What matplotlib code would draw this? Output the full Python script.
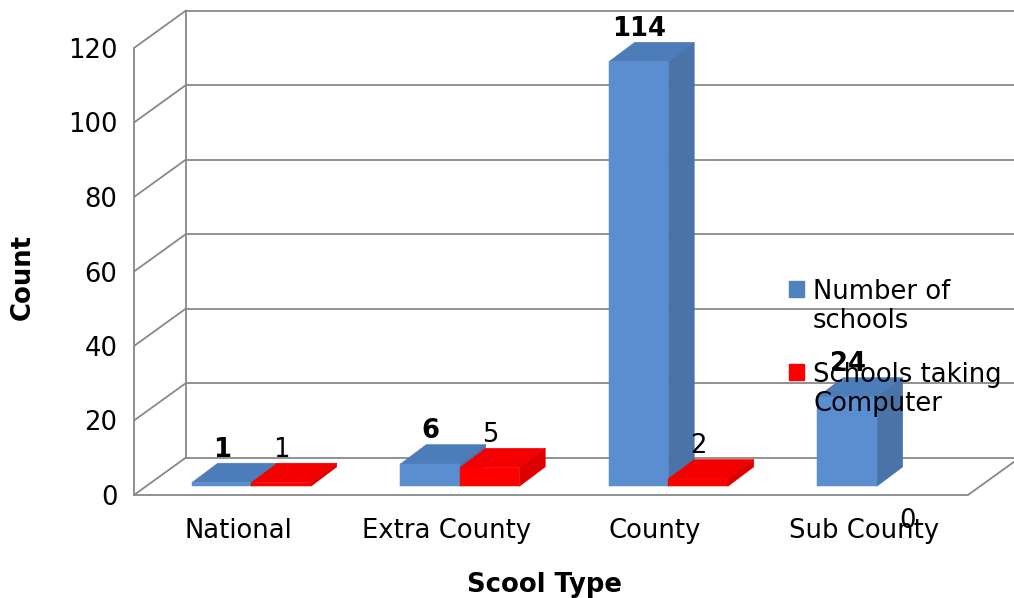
import matplotlib
matplotlib.use("Agg")
import matplotlib.pyplot as plt
from matplotlib.legend_handler import HandlerPatch
from matplotlib.patches import Patch, Polygon, Rectangle

# Data
categories = ["National", "Extra County", "County", "Sub County"]
number_of_schools = [1, 6, 114, 24]
schools_taking_computer = [1, 5, 2, 0]
value_ticks = [0, 20, 40, 60, 80, 100, 120]

W, H = 1014, 598
FONT = 18.6
plt.rcParams["font.family"] = ["DejaVu Sans"]

fig = plt.figure(figsize=(W / 100, H / 100), dpi=100, facecolor="white")
# The axes rectangle is the front plane of the box.
ax = fig.add_axes([134 / W, 1 - 495 / H, (968 - 134) / W, (495 - 48) / H])
ax.set_xlim(-0.5, 3.5)
ax.set_ylim(0, 120)
ax.patch.set_visible(False)
for spine in ax.spines.values():
    spine.set_visible(False)

# Pixel scale of each data axis, used for the oblique depth of the box and bars.
PX_X = (968 - 134) / 4
PX_Y = (495 - 48) / 120
WALL_DX, WALL_DY = 52 / PX_X, 37.5 / PX_Y
BAR_DX, BAR_DY = 26 / PX_X, 19.5 / PX_Y
BAR_W = 59.5 / PX_X
BAR_SHIFT = 13 / PX_X
BAR_BASE = 8.6 / PX_Y

GRID = "#888888"
wall = dict(color=GRID, lw=1.3, clip_on=False, zorder=1, solid_capstyle="round")
for v in value_ticks:
    ax.plot([-0.5, -0.5 + WALL_DX], [v, v + WALL_DY], **wall)
    ax.plot([-0.5 + WALL_DX, 3.5 + WALL_DX], [v + WALL_DY, v + WALL_DY], **wall)
ax.plot([-0.5, -0.5], [0, 120], **wall)
ax.plot([-0.5 + WALL_DX] * 2, [WALL_DY, 120 + WALL_DY], **wall)
ax.plot([-0.5, 3.5, 3.5 + WALL_DX], [0, 0, WALL_DY], **wall)

BLUE = ("#5b8ed0", "#4d7db8", "#4a74a8")
RED = ("#ff0000", "#f50000", "#dc0000")
SEAM = 0.35


def draw_bars(values, left, colors, z):
    for i, v in enumerate(values):
        if v <= 0:
            continue
        x0 = i + left
        x1 = x0 + BAR_W
        y0, y1 = BAR_BASE, BAR_BASE + v
        ax.add_patch(Polygon([(x0, y1), (x1, y1), (x1 + BAR_DX, y1 + BAR_DY),
                              (x0 + BAR_DX, y1 + BAR_DY)], closed=True,
                             fc=colors[1], ec=colors[1], lw=SEAM, clip_on=False, zorder=z))
        ax.add_patch(Polygon([(x1, y0), (x1 + BAR_DX, y0 + BAR_DY),
                              (x1 + BAR_DX, y1 + BAR_DY), (x1, y1)], closed=True,
                             fc=colors[2], ec=colors[2], lw=SEAM, clip_on=False, zorder=z))
        ax.bar(x0, v, BAR_W, bottom=y0, align="edge", color=colors[0],
               edgecolor=colors[0], linewidth=SEAM, clip_on=False, zorder=z)


draw_bars(number_of_schools, BAR_SHIFT - BAR_W, BLUE, 3)
draw_bars(schools_taking_computer, BAR_SHIFT, RED, 4)


def draw_labels(values, left, weight):
    for i, v in enumerate(values):
        # A zero bar has its label dropped below the floor.
        dy = -38.8 if v == 0 else 9.4
        ax.annotate(str(v), (i + left + BAR_W / 2, BAR_BASE + v + BAR_DY),
                    xytext=(0.5, dy), textcoords="offset points", ha="center",
                    va="center", fontsize=FONT, fontweight=weight, color="black",
                    annotation_clip=False, zorder=6)


draw_labels(number_of_schools, BAR_SHIFT - BAR_W, "bold")
draw_labels(schools_taking_computer, BAR_SHIFT, "normal")

# Axis ticks and titles
ax.set_xticks(range(len(categories)), categories, fontsize=FONT)
ax.set_yticks(value_ticks, [str(v) for v in value_ticks], fontsize=FONT)
ax.tick_params(axis="both", length=0, colors="black")
ax.tick_params(axis="x", pad=16.3)
ax.tick_params(axis="y", pad=12)
ax.set_xlabel("Scool Type", fontsize=FONT, fontweight="bold")
ax.xaxis.set_label_coords(544.5 / W, 1 - 585 / H, transform=fig.transFigure)
ax.xaxis.label.set_va("center")
ax.set_ylabel("Count", fontsize=FONT, fontweight="bold")
ax.yaxis.set_label_coords(23 / W, 1 - 277 / H, transform=fig.transFigure)
ax.yaxis.label.set_va("center")


# Legend keys sit beside the first line of each wrapped label.
def first_line_key(legend, orig_handle, xdescent, ydescent, width, height, fontsize):
    return Rectangle((0, 14.0), 11.5, 11.5)


handles = [Patch(color="#4f81bd", label="Number of\nschools"),
           Patch(color="#ff0000", label="Schools taking\nComputer")]
legend = ax.legend(handles=handles, loc="upper left",
                   bbox_to_anchor=(788.5 / W, 1 - 279 / H), bbox_transform=fig.transFigure,
                   frameon=False, fontsize=FONT, borderpad=0, borderaxespad=0,
                   handlelength=0.62, handleheight=0.62, handletextpad=0.33, labelspacing=1.07,
                   handler_map={Patch: HandlerPatch(patch_func=first_line_key)})
legend.set_zorder(7)
for t in legend.get_texts():
    t.set_linespacing(1.17)

fig.savefig("out.png", dpi=100, facecolor="white")
